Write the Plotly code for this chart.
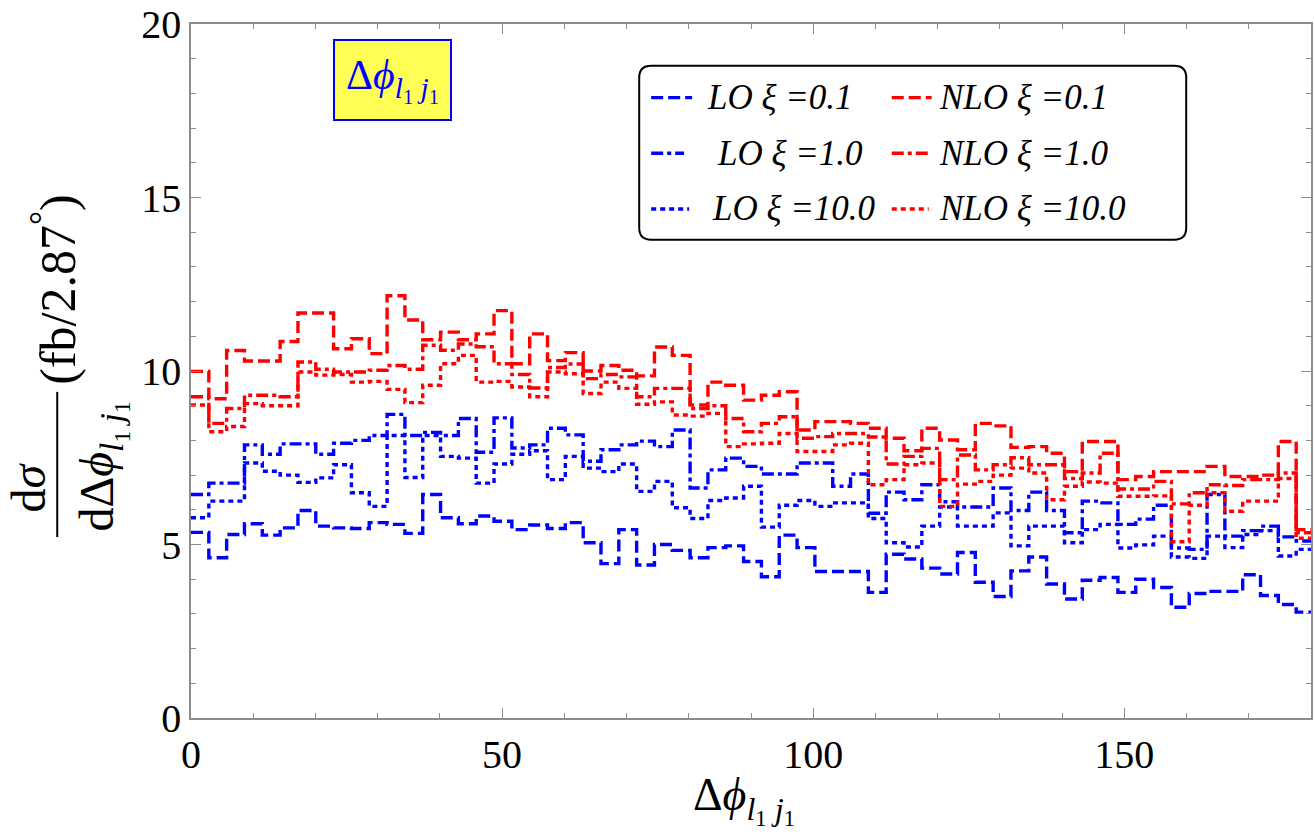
import plotly.graph_objects as go

# ---------------- data ----------------
bin_width_deg = 2.8648  # 0.05 rad
n_bins = 63

lo_xi01 = [5.35, 4.62, 5.29, 5.6, 5.27, 5.48, 5.98, 5.53, 5.48, 5.46,
           5.63, 5.58, 5.32, 6.44, 5.77, 5.6, 5.82, 5.67, 5.43, 5.56,
           5.46, 5.63, 5.05, 4.45, 5.43, 4.41, 5.0, 4.83, 4.62, 4.91,
           4.96, 4.51, 4.07, 5.27, 4.91, 4.22, 4.22, 4.22, 3.62, 4.72,
           4.58, 4.32, 4.15, 4.77, 3.91, 3.5, 4.24, 4.64, 3.86, 3.43,
           3.97, 4.05, 3.62, 4.0, 3.76, 3.19, 3.59, 3.65, 3.65, 4.13,
           3.53, 3.27, 3.05]
lo_xi1 = [6.44, 6.77, 6.77, 7.87, 7.6, 7.9, 7.9, 7.6, 7.92, 8.0,
          8.14, 8.75, 8.14, 8.23, 8.14, 8.63, 7.66, 8.65, 7.78, 7.87,
          8.35, 8.16, 7.4, 7.73, 7.87, 7.98, 7.82, 8.3, 6.63, 7.15,
          7.49, 7.25, 7.03, 7.03, 7.35, 7.35, 6.68, 7.03, 5.9, 6.51,
          6.29, 6.72, 6.23, 6.08, 6.08, 6.63, 5.98, 6.51, 5.98, 5.34,
          6.25, 6.2, 5.58, 5.73, 6.13, 4.9, 4.86, 6.44, 5.24, 5.4,
          5.53, 5.22, 5.1]
lo_xi10 = [5.77, 6.25, 6.25, 7.35, 7.11, 7.0, 6.79, 6.92, 7.3, 6.49,
           6.1, 8.14, 6.93, 8.14, 7.54, 7.49, 6.77, 7.32, 7.6, 7.7,
           6.87, 7.54, 7.2, 7.1, 7.32, 6.53, 6.82, 6.06, 5.75, 6.27,
           6.34, 6.68, 5.5, 6.13, 6.27, 6.1, 6.2, 6.2, 5.75, 5.05,
           4.93, 5.53, 6.08, 5.53, 5.53, 5.91, 4.96, 5.53, 5.53, 5.05,
           5.43, 5.58, 4.9, 4.99, 5.24, 4.64, 4.6, 5.24, 4.91, 5.29,
           5.4, 4.67, 4.86]
nlo_xi01 = [9.99, 9.2, 10.59, 10.29, 10.29, 10.85, 11.67, 11.67, 10.64, 10.93,
            10.5, 12.17, 11.47, 10.9, 11.12, 10.9, 11.07, 11.74, 10.21, 11.07,
            10.3, 10.53, 10.0, 10.16, 10.02, 9.86, 10.69, 10.45, 9.02, 9.68,
            9.59, 9.16, 9.3, 9.4, 8.3, 8.54, 8.54, 8.49, 8.35, 8.06,
            7.7, 8.35, 8.01, 7.73, 8.49, 8.42, 7.8, 7.82, 7.63, 7.1,
            7.97, 7.97, 6.87, 6.96, 7.1, 7.1, 7.1, 7.25, 6.96, 6.96,
            7.0, 7.97, 5.43]
nlo_xi1 = [9.26, 8.49, 8.92, 9.3, 9.3, 9.26, 10.26, 10.05, 9.97, 9.97,
           10.02, 10.16, 10.05, 10.74, 10.6, 10.78, 10.7, 10.21, 9.9, 9.51,
           10.1, 10.2, 9.78, 9.9, 9.83, 9.26, 9.5, 9.5, 8.92, 9.0,
           8.63, 8.25, 8.49, 8.68, 8.06, 8.11, 8.2, 8.2, 8.1, 7.32,
           7.54, 7.77, 6.87, 7.58, 7.15, 7.3, 7.5, 7.3, 7.3, 6.9,
           7.06, 7.63, 6.6, 6.6, 6.82, 6.17, 6.49, 6.72, 6.7, 6.87,
           6.87, 7.06, 5.34]
nlo_xi10 = [9.02, 8.25, 8.4, 9.06, 9.0, 9.0, 9.97, 9.88, 9.9, 9.68,
            9.7, 9.47, 9.09, 9.59, 10.21, 10.45, 9.68, 9.7, 9.54, 9.26,
            9.97, 9.92, 9.35, 9.68, 9.5, 9.04, 9.11, 8.73, 8.7, 8.78,
            7.82, 7.9, 7.92, 8.2, 7.68, 7.68, 7.87, 7.92, 6.72, 6.87,
            7.3, 7.35, 6.1, 6.74, 6.82, 7.0, 7.2, 7.06, 6.29, 6.68,
            6.8, 6.77, 6.39, 6.39, 6.4, 5.08, 6.13, 6.49, 5.96, 6.25,
            6.25, 6.9, 5.18]

x_ticks = [0, 50, 100, 150]
y_ticks = [0, 5, 10, 15, 20]

series_names = ["LO ξ =0.1", "LO ξ =1.0", "LO ξ =10.0",
                "NLO ξ =0.1", "NLO ξ =1.0", "NLO ξ =10.0"]
series_values = [lo_xi01, lo_xi1, lo_xi10, nlo_xi01, nlo_xi1, nlo_xi10]

# ---------------- styling ----------------
BLUE = "#0000ff"
RED = "#ff0000"
DASHED = "12px,5px"
DASHDOT = "12px,4px,4px,4px"
DOTTED = "5px,4px"
styles = [(BLUE, DASHED), (BLUE, DASHDOT), (BLUE, DOTTED),
          (RED, DASHED), (RED, DASHDOT), (RED, DOTTED)]
SERIF = "Liberation Serif"
PHI_LABEL = "Δ<i>ϕ</i><sub><i>l</i><sub>1</sub> <i>j</i><sub>1</sub></sub>"

W, H = 1315, 840
L, R, T, B = 191, 1313, 20, 718


def px2x(px):
    return (px - L) / (R - L)


def py2y(py):
    return (B - py) / (B - T)


edges = [i * bin_width_deg for i in range(n_bins + 1)]

fig = go.Figure()
for name, vals, (col, dash) in zip(series_names, series_values, styles):
    fig.add_trace(go.Scatter(
        x=edges, y=list(vals) + [vals[-1]], mode="lines", name=name,
        line=dict(color=col, width=3.4, dash=dash, shape="hv"),
        showlegend=False, hoverinfo="skip"))

axis_common = dict(
    showline=True, linecolor="#8c8c8c", linewidth=1.5, mirror="ticks",
    ticks="inside", ticklen=10, tickwidth=1, tickcolor="#8c8c8c",
    showgrid=False, zeroline=False, ticklabeloverflow="allow",
    tickfont=dict(family=SERIF, size=40, color="black"),
)
fig.update_xaxes(range=[0, 180], tickmode="array", tickvals=x_ticks,
                 ticktext=[str(v) for v in x_ticks],
                 minor=dict(dtick=10, ticklen=5, ticks="inside",
                            tickcolor="#8c8c8c"),
                 **axis_common)
fig.update_yaxes(range=[0, 20], tickmode="array", tickvals=y_ticks,
                 ticktext=[str(v) for v in y_ticks],
                 minor=dict(dtick=1, ticklen=5, ticks="inside",
                            tickcolor="#8c8c8c"),
                 **axis_common)

shapes = []
annotations = []

# ---- legend (manual, rounded box) ----
bx0, by0, bx1, by1, rr = 640, 62, 1188, 237, 12
pts = [
    ("M", bx0 + rr, by0), ("L", bx1 - rr, by0), ("Q", bx1, by0, bx1, by0 + rr),
    ("L", bx1, by1 - rr), ("Q", bx1, by1, bx1 - rr, by1),
    ("L", bx0 + rr, by1), ("Q", bx0, by1, bx0, by1 - rr),
    ("L", bx0, by0 + rr), ("Q", bx0, by0, bx0 + rr, by0),
]
path = ""
for p in pts:
    if p[0] == "Q":
        path += f"Q{px2x(p[1]):.5f},{py2y(p[2]):.5f} {px2x(p[3]):.5f},{py2y(p[4]):.5f} "
    else:
        path += f"{p[0]}{px2x(p[1]):.5f},{py2y(p[2]):.5f} "
path += "Z"
shapes.append(dict(type="path", xref="paper", yref="paper", path=path,
                   line=dict(color="black", width=2), fillcolor="white",
                   layer="above"))

rows_py = [94, 150, 206]
col_samples = [[(652, 693), (652, 685), (652, 690)],
               [(893, 933), (893, 933), (893, 930)]]
text_left = [[706, 716, 711], [938, 938, 938]]
for i, (name, (col, dash)) in enumerate(zip(series_names, styles)):
    c, r = i // 3, i % 3
    sx0, sx1 = col_samples[c][r]
    yy = py2y(rows_py[r])
    shapes.append(dict(type="line", xref="paper", yref="paper",
                       x0=px2x(sx0), x1=px2x(sx1), y0=yy, y1=yy,
                       line=dict(color=col, width=3.4, dash=dash), layer="above"))
    annotations.append(dict(xref="paper", yref="paper", x=px2x(text_left[c][r]),
                            y=yy, xanchor="left", yanchor="middle",
                            text=f"<i>{name}</i>", showarrow=False,
                            font=dict(family=SERIF, size=35, color="black")))

# ---- boxed label ----
annotations.append(dict(
    xref="paper", yref="paper", x=px2x(393), y=py2y(76),
    xanchor="center", yanchor="middle", showarrow=False,
    text=PHI_LABEL,
    font=dict(family=SERIF, size=42, color=BLUE),
    bgcolor="#ffff55", bordercolor=BLUE, borderwidth=2, borderpad=11))

# ---- x-axis title ----
annotations.append(dict(
    xref="paper", yref="paper", x=px2x(745), y=py2y(800),
    xanchor="center", yanchor="middle", showarrow=False,
    text=PHI_LABEL,
    font=dict(family=SERIF, size=46, color="black")))

# ---- y-axis title as a fraction ----
annotations.append(dict(
    xref="paper", yref="paper", x=px2x(28), y=py2y(486),
    xanchor="center", yanchor="middle", showarrow=False, textangle=-90,
    text="d<i>σ</i>", font=dict(family=SERIF, size=48, color="black")))
annotations.append(dict(
    xref="paper", yref="paper", x=px2x(102), y=py2y(465),
    xanchor="center", yanchor="middle", showarrow=False, textangle=-90,
    text="d" + PHI_LABEL,
    font=dict(family=SERIF, size=48, color="black")))
shapes.append(dict(type="line", xref="paper", yref="paper",
                   x0=px2x(57), x1=px2x(57), y0=py2y(390), y1=py2y(536),
                   line=dict(color="black", width=2)))
annotations.append(dict(
    xref="paper", yref="paper", x=px2x(54), y=py2y(287),
    xanchor="center", yanchor="middle", showarrow=False, textangle=-90,
    text="(fb/2.87<sup>°</sup>)", font=dict(family=SERIF, size=50, color="black")))

fig.update_layout(
    width=W, height=H,
    margin=dict(l=L, r=W - R, t=T, b=H - B),
    paper_bgcolor="white", plot_bgcolor="white",
    shapes=shapes, annotations=annotations, showlegend=False,
)

fig.write_html("out.html")
